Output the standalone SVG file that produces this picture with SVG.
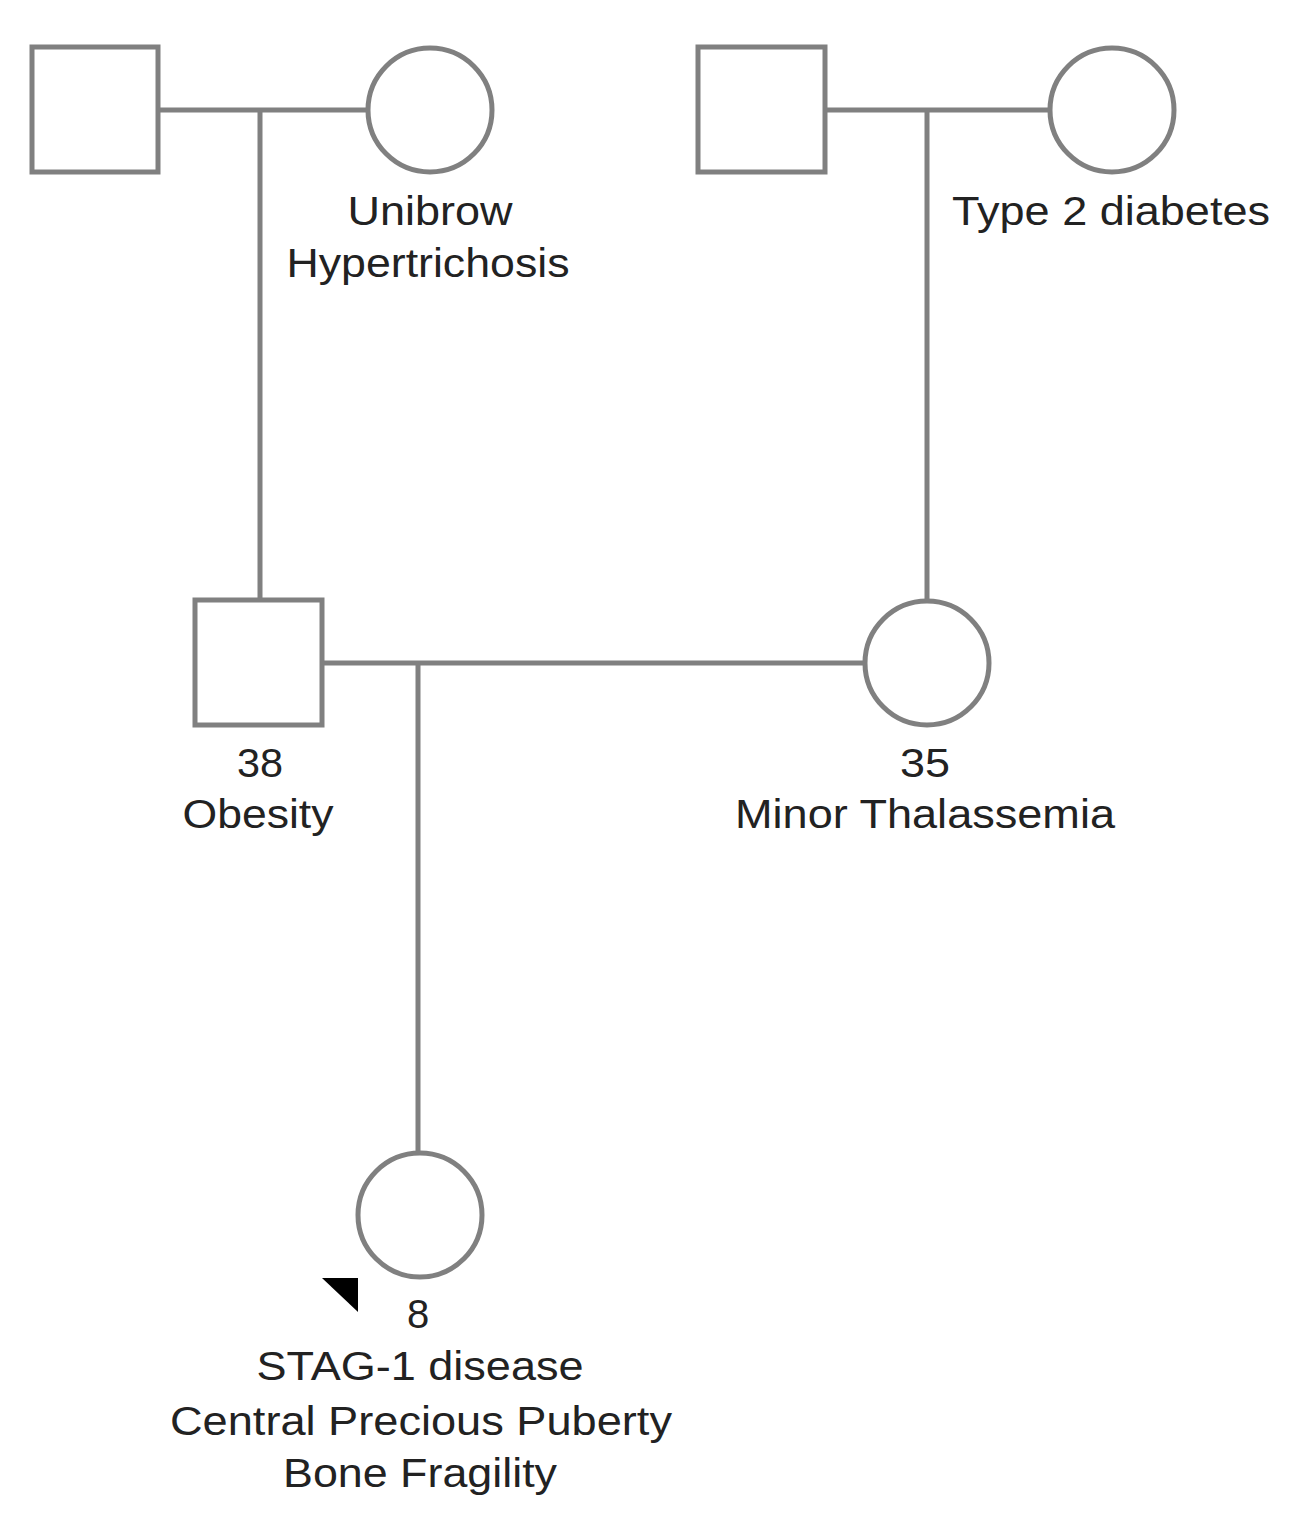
<svg xmlns="http://www.w3.org/2000/svg" width="1300" height="1519" viewBox="0 0 1300 1519">
<style>
.s{fill:#fff;stroke:#808080;stroke-width:5}
.l{stroke:#808080;stroke-width:5;fill:none}
text{font-family:"Liberation Sans",Arial,sans-serif;font-size:40px;fill:#222;text-anchor:middle}
</style>
<rect width="1300" height="1519" fill="#fff"/>
<g id="connectors">
<line class="l" x1="158" y1="110" x2="368" y2="110"/>
<line class="l" x1="260" y1="110" x2="260" y2="600"/>
<line class="l" x1="825" y1="110" x2="1050" y2="110"/>
<line class="l" x1="927" y1="110" x2="927" y2="601"/>
<line class="l" x1="322" y1="663" x2="865" y2="663"/>
<line class="l" x1="418" y1="663" x2="418" y2="1153"/>
</g>
<g id="gf1"><rect class="s" x="32" y="47" width="126" height="125"/></g>
<g id="gm1"><circle class="s" cx="430" cy="110" r="62"/><text x="430" y="225" textLength="165" lengthAdjust="spacingAndGlyphs">Unibrow</text><text x="428" y="277" textLength="283" lengthAdjust="spacingAndGlyphs">Hypertrichosis</text></g>
<g id="gf2"><rect class="s" x="698" y="47" width="127" height="125"/></g>
<g id="gm2"><circle class="s" cx="1112" cy="110" r="62"/><text x="1111" y="225" textLength="318" lengthAdjust="spacingAndGlyphs">Type 2 diabetes</text></g>
<g id="father"><rect class="s" x="195" y="600" width="127" height="125"/><text x="260" y="777" textLength="46" lengthAdjust="spacingAndGlyphs">38</text><text x="258" y="828" textLength="151" lengthAdjust="spacingAndGlyphs">Obesity</text></g>
<g id="mother"><circle class="s" cx="927" cy="663" r="62"/><text x="925" y="777" textLength="50" lengthAdjust="spacingAndGlyphs">35</text><text x="925" y="828" textLength="380" lengthAdjust="spacingAndGlyphs">Minor Thalassemia</text></g>
<g id="proband"><circle class="s" cx="420" cy="1215" r="62"/>
<polygon points="322,1278 358,1278 358,1312" fill="#000"/>
<text x="418" y="1328">8</text><text x="420" y="1380" textLength="327" lengthAdjust="spacingAndGlyphs">STAG-1 disease</text><text x="421" y="1435" textLength="502" lengthAdjust="spacingAndGlyphs">Central Precious Puberty</text><text x="420" y="1487" textLength="274" lengthAdjust="spacingAndGlyphs">Bone Fragility</text></g>
</svg>
